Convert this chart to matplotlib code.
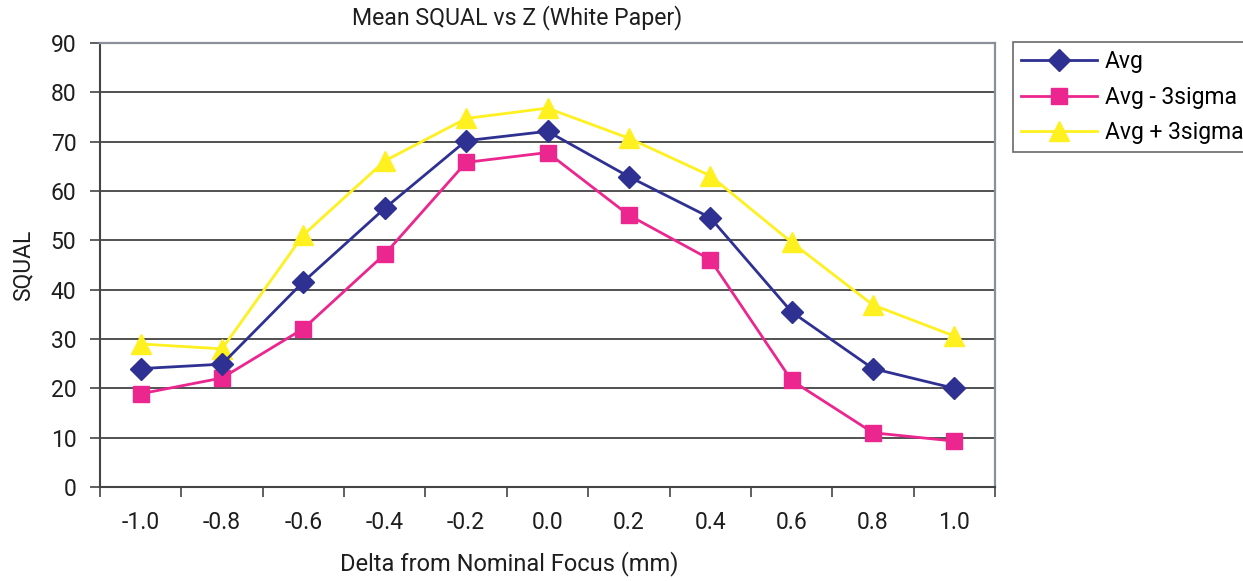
import matplotlib
matplotlib.use("Agg")
import matplotlib.pyplot as plt
from matplotlib.ticker import FixedLocator

plt.rcParams['font.family'] = ['Roboto', 'DejaVu Sans']

categories = ["-1.0", "-0.8", "-0.6", "-0.4", "-0.2", "0.0", "0.2", "0.4", "0.6", "0.8", "1.0"]
avg = [24.0, 24.9, 41.6, 56.5, 70.2, 72.1, 62.9, 54.6, 35.5, 24.0, 20.0]
avg_minus = [18.9, 22.1, 32.1, 47.2, 65.8, 67.8, 55.1, 46.1, 21.6, 11.0, 9.3]
avg_plus = [29.0, 28.0, 51.1, 66.1, 74.7, 76.8, 70.7, 63.1, 49.6, 36.9, 30.6]
y_ticks = [0, 10, 20, 30, 40, 50, 60, 70, 80, 90]

W, H = 1243, 581
fig = plt.figure(figsize=(W / 100, H / 100), dpi=100)
ax = fig.add_axes([100 / W, (H - 487) / H, (995 - 100) / W, (487 - 43) / H])

x = list(range(len(categories)))
navy = '#2E3092'
pink = '#EC268F'
yellow = '#FFF01F'
txt = '#1E1E1E'

ax.plot(x, avg, color=navy, lw=2.0, marker='D', ms=11, mec=navy, mfc=navy, label='Avg', zorder=5)
ax.plot(x, avg_minus, color=pink, lw=2.0, marker='s', ms=11, mec=pink, mfc=pink, label='Avg - 3sigma', zorder=4)
ax.plot(x, avg_plus, color=yellow, lw=2.0, marker='^', ms=14, mec=yellow, mfc=yellow, label='Avg + 3sigma', zorder=3)

ax.set_xlim(-0.5, len(categories) - 0.5)
ax.set_ylim(0, 90)
ax.set_yticks(y_ticks)
ax.set_yticklabels([str(v) for v in y_ticks])
ax.set_xticks(x)
ax.set_xticklabels(categories)
ax.xaxis.set_minor_locator(FixedLocator([i - 0.5 for i in range(len(categories) + 1)]))
ax.tick_params(axis='x', which='major', length=0, pad=17, labelsize=16.5, colors=txt)
ax.tick_params(axis='x', which='minor', length=7, width=1.2, color='#444444', direction='out')
ax.tick_params(axis='y', which='major', length=7, width=1.2, color='#444444', direction='out', pad=10, labelsize=16.5, labelcolor=txt)

ax.grid(axis='y', color='#333333', lw=1.2, zorder=0)
ax.set_axisbelow(True)
for s in ['left', 'bottom']:
    ax.spines[s].set_color('#444444')
    ax.spines[s].set_linewidth(1.5)
ax.spines['top'].set_color('#8A9099')
ax.spines['top'].set_linewidth(1.6)
ax.spines['right'].set_color('#8A9099')
ax.spines['right'].set_linewidth(1.6)

ax.set_xlabel('Delta from Nominal Focus (mm)', fontsize=17, color=txt)
ax.xaxis.set_label_coords((509 - 100) / 895, -(564 - 487) / 444)
ax.xaxis.label.set_va('center')
ax.set_ylabel('SQUAL', fontsize=16.5, color=txt, labelpad=12)
fig.text(517 / W, 1 - 18 / H, 'Mean SQUAL vs Z (White Paper)', ha='center', va='center', fontsize=16.7, color=txt)

leg = fig.legend(loc='upper left', bbox_to_anchor=(1013 / W, 1 - 42 / H), fontsize=16.5,
                 frameon=True, fancybox=False, handlelength=3.3, handletextpad=0.35,
                 borderpad=0.35, labelspacing=0.55, borderaxespad=0)
leg.get_frame().set_edgecolor('#444444')
leg.get_frame().set_linewidth(1.2)

fig.savefig('out.png', dpi=100)
